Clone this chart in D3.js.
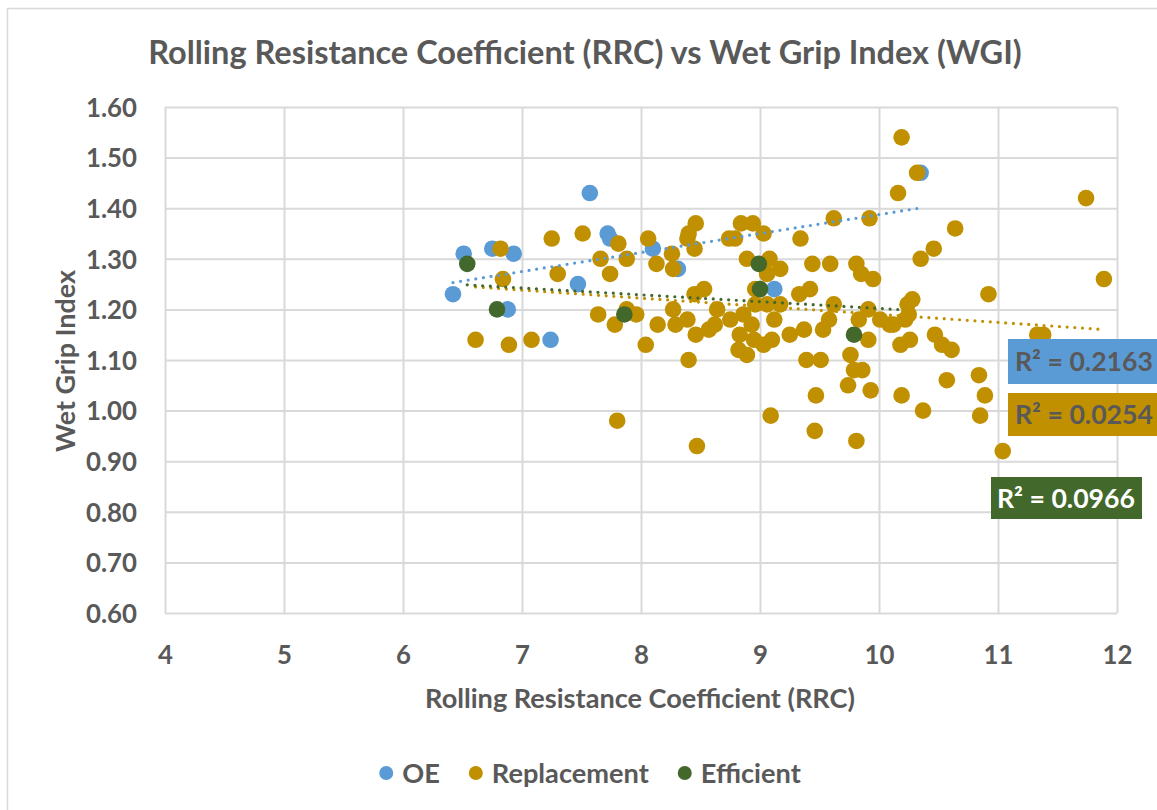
<!DOCTYPE html>
<html><head><meta charset="utf-8">
<script src="https://cdn.jsdelivr.net/npm/d3@7"></script>
<style>
body{margin:0;background:#fff;overflow:hidden}
svg{display:block}
text{font-family:Lato,"Open Sans",sans-serif;fill:#595959;font-weight:bold}
</style>
</head><body>
<svg id="c" width="1157" height="810"></svg>
<script>
// ---------------- data ----------------
const title = "Rolling Resistance Coefficient (RRC) vs Wet Grip Index (WGI)";
const xTitle = "Rolling Resistance Coefficient (RRC)";
const yTitle = "Wet Grip Index";
const xTicks = [4,5,6,7,8,9,10,11,12];
const yTicks = [0.6,0.7,0.8,0.9,1.0,1.1,1.2,1.3,1.4,1.5,1.6];
const seriesNames = ["OE","Replacement","Efficient"];
const r2Labels = ["R² = 0.2163","R² = 0.0254","R² = 0.0966"];

const oeX = [6.42,6.51,6.75,6.93,6.88,7.24,7.47,7.57,7.72,7.74,8.10,8.31,9.12,10.35];
const oeY = [1.23,1.31,1.32,1.31,1.20,1.14,1.25,1.43,1.35,1.34,1.32,1.28,1.24,1.47];

const repX = [6.61,6.82,6.84,6.89,7.08,7.25,7.30,7.51,7.64,7.66,7.74,7.78,7.80,7.81,7.88,7.88,7.96,8.04,8.06,8.13,
  8.14,8.26,8.27,8.27,8.29,8.39,8.40,8.45,8.46,8.39,8.40,8.46,8.45,8.47,8.53,8.57,8.62,8.64,8.74,8.79,
  8.75,8.84,8.94,8.83,8.82,8.86,8.89,8.89,8.93,8.95,8.96,8.96,9.03,9.03,9.06,9.06,9.08,9.10,9.09,9.12,
  9.17,9.17,9.25,9.33,9.34,9.37,9.39,9.42,9.44,9.46,9.47,9.51,9.53,9.58,9.59,9.62,9.62,9.74,9.76,9.79,
  9.81,9.81,9.83,9.85,9.86,9.91,9.91,9.92,9.93,9.95,10.01,10.09,10.12,10.16,10.19,10.18,10.19,10.22,10.24,10.25,
  10.28,10.26,10.32,10.35,10.37,10.46,10.47,10.53,10.57,10.61,10.64,10.84,10.85,10.89,10.92,11.04,11.33,11.38,11.74,11.89];
const repY = [1.14,1.32,1.26,1.13,1.14,1.34,1.27,1.35,1.19,1.30,1.27,1.17,0.98,1.33,1.30,1.20,1.19,1.13,1.34,1.29,
  1.17,1.31,1.28,1.20,1.17,1.34,1.35,1.32,1.37,1.18,1.10,1.15,1.23,0.93,1.24,1.16,1.17,1.20,1.34,1.34,
  1.18,1.37,1.37,1.15,1.12,1.19,1.11,1.30,1.17,1.14,1.24,1.21,1.35,1.13,1.27,1.21,1.30,1.14,0.99,1.18,
  1.28,1.21,1.15,1.23,1.34,1.16,1.10,1.24,1.29,0.96,1.03,1.10,1.16,1.18,1.29,1.38,1.21,1.05,1.11,1.08,
  1.29,0.94,1.18,1.27,1.08,1.20,1.14,1.38,1.04,1.26,1.18,1.17,1.17,1.43,1.54,1.13,1.03,1.18,1.21,1.19,
  1.22,1.14,1.47,1.30,1.00,1.32,1.15,1.13,1.06,1.12,1.36,1.07,0.99,1.03,1.23,0.92,1.15,1.15,1.42,1.26];

const effX = [6.54,6.79,7.86,8.99,9.00,9.79];
const effY = [1.29,1.20,1.19,1.29,1.24,1.15];

const colors = ["#5B9BD5","#C09000","#43682B"];
const trendForward = [0,0,0.38];

// ---------------- drawing ----------------
const svg = d3.select("#c");
const W = 1157, H = 810;
const L = 165, R = 1117, T = 107, B = 613;
const x = d3.scaleLinear().domain([4,12]).range([L,R]);
const y = d3.scaleLinear().domain([0.6,1.6]).range([B,T]);

function fit(sel, target){
  sel.style("font-size","100px");
  const w = sel.node().getComputedTextLength();
  const fs = 100*target/w;
  sel.style("font-size", fs+"px");
  return fs;
}

svg.append("rect").attr("x",0).attr("y",0).attr("width",W).attr("height",H).attr("fill","#fff");
svg.append("rect").attr("x",7.5).attr("y",8.5).attr("width",1400).attr("height",1000)
  .attr("fill","none").attr("stroke","#d9d9d9").attr("stroke-width",1.5);

// gridlines
svg.append("g").attr("transform",`translate(0,${B})`)
  .call(d3.axisBottom(x).tickValues(xTicks).tickSize(-(B-T)).tickFormat(""))
  .call(g=>{g.select(".domain").remove(); g.selectAll("line").attr("stroke","#d9d9d9").attr("stroke-width",2);});
svg.append("g").attr("transform",`translate(${L},0)`)
  .call(d3.axisLeft(y).tickValues(yTicks).tickSize(-(R-L)).tickFormat(""))
  .call(g=>{g.select(".domain").remove(); g.selectAll("line").attr("stroke","#d9d9d9").attr("stroke-width",2);});

// tick labels
const yAx = svg.append("g").attr("transform",`translate(${L},0)`)
  .call(d3.axisLeft(y).tickValues(yTicks).tickSize(0).tickPadding(28).tickFormat(d3.format(".2f")));
yAx.select(".domain").remove();
yAx.selectAll("text").attr("fill","#595959").attr("font-family",null).attr("font-size",null).attr("dy","0.36em");
const tickFs = fit(yAx.selectAll("text").filter(d=>d===1.6), 51);
yAx.selectAll("text").style("font-size",tickFs+"px");

const xAx = svg.append("g").attr("transform",`translate(0,${B})`)
  .call(d3.axisBottom(x).tickValues(xTicks).tickSize(0).tickFormat(d3.format("d")));
xAx.select(".domain").remove();
xAx.selectAll("text").attr("fill","#595959").attr("font-family",null).attr("font-size",null)
  .attr("y",42).attr("dy","0.36em").style("font-size",tickFs+"px");

// titles
const tt = svg.append("text").attr("x",585).attr("y",52).attr("dy","0.36em").attr("text-anchor","middle").text(title);
fit(tt, 874);
const xt = svg.append("text").attr("x",640).attr("y",698).attr("dy","0.36em").attr("text-anchor","middle").text(xTitle);
fit(xt, 430);
const yt = svg.append("text").attr("transform","translate(65,361) rotate(-90)").attr("dy","0.36em").attr("text-anchor","middle").text(yTitle);
fit(yt, 182);

// trendlines
const sets = [[oeX,oeY],[repX,repY],[effX,effY]];
function regress(xs, ys){
  const n = xs.length, mx = d3.mean(xs), my = d3.mean(ys);
  let sxy=0,sxx=0;
  for(let i=0;i<n;i++){sxy+=(xs[i]-mx)*(ys[i]-my); sxx+=(xs[i]-mx)**2;}
  const b = sxy/sxx; return {b, a: my-b*mx};
}
const line = d3.line().x(d=>x(d[0])).y(d=>y(d[1]));
// points: draw in series order
sets.forEach((s,i)=>{
  const pts = s[0].map((v,j)=>[v,s[1][j]]);
  svg.append("g").selectAll("circle").data(pts).join("circle")
    .attr("cx",d=>x(d[0])).attr("cy",d=>y(d[1])).attr("r",8.3)
    .attr("fill",colors[i]);
});
sets.forEach((s,i)=>{
  const {a,b} = regress(s[0],s[1]);
  const x0 = d3.min(s[0]), x1 = d3.max(s[0]) + trendForward[i];
  svg.append("path").datum([[x0,a+b*x0],[x1,a+b*x1]]).attr("d",line)
    .attr("fill","none").attr("stroke",colors[i]).attr("stroke-width",3.2)
    .attr("stroke-linecap","round").attr("stroke-dasharray","0 7.7");
});

// R² labels
const boxes = [{x:1008,y:339,w:160,h:45,tx:1015,c:colors[0],tc:"#595959"},
               {x:1008,y:393,w:160,h:43,tx:1015,c:colors[1],tc:"#595959"},
               {x:991,y:477,w:151,h:42,tx:997,c:colors[2],tc:"#ffffff"}];
boxes.forEach((bx,i)=>{
  svg.append("rect").attr("x",bx.x).attr("y",bx.y).attr("width",bx.w).attr("height",bx.h).attr("fill",bx.c);
  const t = svg.append("text").attr("x",bx.tx).attr("y",bx.y+bx.h/2).attr("dy","0.36em")
    .style("fill",bx.tc).text(r2Labels[i]);
  fit(t, 138);
});

// legend
const lg = svg.append("g");
const items = seriesNames.map((n,i)=>{
  const g = lg.append("g");
  g.append("circle").attr("r",7).attr("fill",colors[i]);
  const t = g.append("text").attr("x",16).attr("dy","0.36em").text(n);
  return {g,t};
});
const lfs = fit(items[1].t,157);
items.forEach(it=>it.t.style("font-size",lfs+"px"));
let cx = 0; const pos=[];
items.forEach((it,i)=>{ pos.push(cx); cx += 16 + it.t.node().getComputedTextLength() + (i<2?36:0); });
const total = cx + 7;
const start = 590 - total/2 + 7;
items.forEach((it,i)=>it.g.attr("transform",`translate(${start+pos[i]},773)`));
</script>
</body></html>
